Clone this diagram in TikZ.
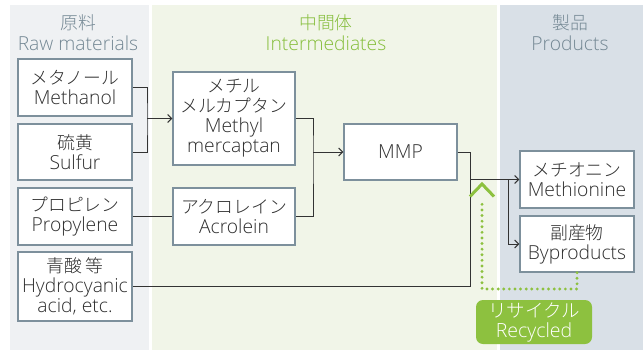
\documentclass[tikz,border=0pt]{standalone}
\usepackage{fontspec}
\setmainfont{Open Sans Light}
\newfontfamily\jp{Noto Sans CJK JP Light}
\usetikzlibrary{arrows.meta}
\definecolor{leftbg}{HTML}{EFF1F3}
\definecolor{midbg}{HTML}{F1F5E8}
\definecolor{rightbg}{HTML}{D9E0E7}
\definecolor{hdrgray}{HTML}{748894}
\definecolor{hdrgreen}{HTML}{86BE3C}
\definecolor{boxline}{HTML}{7D909C}
\definecolor{txt}{HTML}{2E2E2E}
\definecolor{conn}{HTML}{333333}
\definecolor{recgreen}{HTML}{8DC13F}
\tikzset{
  fbox/.style={draw=boxline, line width=1.3pt, fill=white, inner sep=0pt,
    align=center, text=txt, font=\fontsize{19.3}{20}\selectfont},
  hdr/.style={align=center, inner sep=0pt, font=\fontsize{19.3}{21}\selectfont},
  conline/.style={draw=conn, line width=1pt},
  arr/.style={conline, -{Straight Barb[length=4pt,width=8pt,line width=1pt]}},
  recyc/.style={draw=recgreen, line width=3.2pt, dash pattern=on 0pt off 5.6pt, line cap=round},
  recchev/.style={draw=recgreen, line width=3pt, line cap=butt, line join=miter},
}
\newcommand{\jpl}[1]{{\jp\fontsize{17.8}{20}\selectfont #1}}
\begin{document}
\begin{tikzpicture}[x=1pt,y=-1pt]
\useasboundingbox (0,0) rectangle (643,351);
\fill[white] (0,0) rectangle (643,351);
% panels
\fill[leftbg] (10,5) rectangle (149,350);
\fill[midbg] (152,5) rectangle (497,350);
\fill[rightbg] (500,5) rectangle (643,350);
% headers
\node[hdr, text=hdrgray] (h1) at (78,33) {\jpl{原料}\\Raw materials};
\node[hdr, text=hdrgreen] (h2) at (326,33) {\jpl{中間体}\\Intermediates};
\node[hdr, text=hdrgray] (h3) at (570,33) {\jpl{製品}\\Products};
% boxes
\node[fbox, minimum width=114pt, minimum height=57pt] (meth) at (75,87.5) {\jpl{メタノール}\\Methanol};
\node[fbox, minimum width=114pt, minimum height=56pt] (sulf) at (75,152) {\jpl{硫黄}\\Sulfur};
\node[fbox, minimum width=114pt, minimum height=57pt] (prop) at (75,216.5) {\jpl{プロピレン}\\Propylene};
\node[fbox, minimum width=114pt, minimum height=69pt] (hcn) at (75,286.5) {\jpl{青酸 等}\\Hydrocyanic\\acid, etc.};
\node[fbox, minimum width=122pt, minimum height=93pt] (mm) at (234,118.5) {\jpl{メチル}\\\jpl{メルカプタン}\\Methyl\\mercaptan};
\node[fbox, minimum width=122pt, minimum height=57pt] (acr) at (234,216.5) {\jpl{アクロレイン}\\Acrolein};
\node[fbox, minimum width=113pt, minimum height=56pt] (mmp) at (400.5,152) {MMP};
\node[fbox, minimum width=114pt, minimum height=57pt] (met) at (577,179.5) {\jpl{メチオニン}\\Methionine};
\node[fbox, minimum width=114pt, minimum height=56pt] (byp) at (577,244) {\jpl{副産物}\\Byproducts};
\node[fill=recgreen, rounded corners=7pt, minimum width=116pt, minimum height=44pt, inner sep=0pt,
  align=center, text=white, font=\fontsize{19.5}{20}\selectfont] (rec) at (534,322) {{\jp\fontsize{18.5}{20}\selectfont リサイクル}\\Recycled};
% connectors
\coordinate (j1) at (147,118.5);
\draw[conline] (meth.east) -| (j1) |- (sulf.east);
\draw[arr] (j1) -- (mm.west);
\coordinate (j2) at (313,152);
\draw[conline] (mm.east) -| (j2) |- (acr.east);
\draw[arr] (j2) -- (mmp.west);
\draw[conline] (prop.east) -- (acr.west);
\coordinate (j3) at (470,286.5);
\draw[conline] (mmp.east) -| (j3) -- (hcn.east);
\coordinate (j4) at (470,179.5);
\draw[arr] (j4) -- (met.west);
\coordinate (j5) at (508,179.5);
\draw[arr] (j5) |- (byp.west);
\coordinate (r1) at (482,289);
\coordinate (r2) at (482,184);
\coordinate (r3) at (482,200);
\draw[recyc] (byp.south) |- (r1) -- (r3);
\draw[recchev] ([xshift=-12pt,yshift=-12.5pt]r2) -- (r2) -- ([xshift=12pt,yshift=-12.5pt]r2);
\end{tikzpicture}
\end{document}
